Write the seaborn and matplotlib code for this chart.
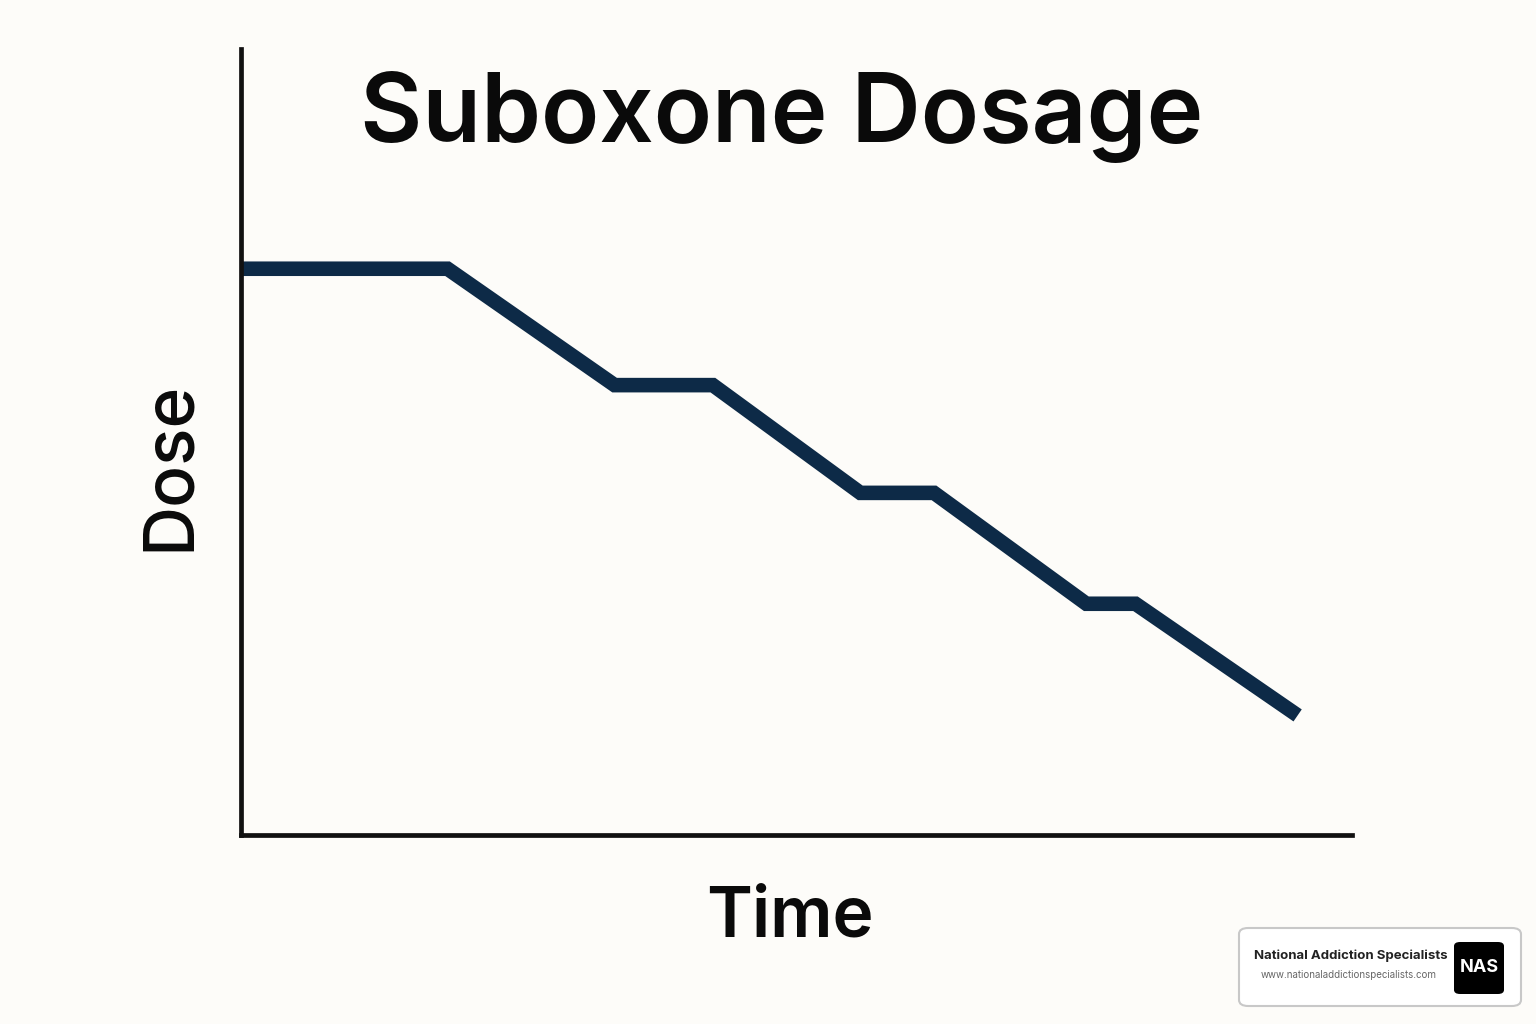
import matplotlib.pyplot as plt
import pandas as pd
import seaborn as sns
from matplotlib.patches import FancyBboxPatch

# Step-down taper schedule (arbitrary units)
time = [0, 2.1, 3.8, 4.8, 6.3, 7.05, 8.6, 9.1, 10.75]
dose = [7.2, 7.2, 5.72, 5.72, 4.35, 4.35, 2.94, 2.94, 1.52]

BG = "#fdfcf9"
LINE = "#0d2a47"

sns.set_theme(style="white", font="Inter")
fig = plt.figure(figsize=(15.36, 10.24), dpi=100, facecolor=BG)
ax = fig.add_axes([0.157, 0.1846, 0.723, 0.768])
ax.set_facecolor(BG)

df = pd.DataFrame({"time": time, "dose": dose})
sns.lineplot(data=df, x="time", y="dose", ax=ax, color=LINE, linewidth=10.5,
             solid_joinstyle="miter", solid_capstyle="butt", sort=False)

ax.set_xlim(0, 11.3)
ax.set_ylim(0, 10)
ax.set_xticks([])
ax.set_yticks([])
ax.set_xlabel("")
ax.set_ylabel("")
for side in ["top", "right"]:
    ax.spines[side].set_visible(False)
for side in ["left", "bottom"]:
    ax.spines[side].set_linewidth(3.4)
    ax.spines[side].set_color("#111111")

fig.text(0.509, 0.886, "Suboxone Dosage", ha="center", va="center",
         fontsize=69, fontweight="semibold", color="#0a0a0a")
fig.text(0.111, 0.545, "Dose", ha="center", va="center", rotation=90,
         fontsize=50, fontweight="medium", color="#0a0a0a")
fig.text(0.514, 0.104, "Time", ha="center", va="center",
         fontsize=50, fontweight="semibold", color="#0a0a0a")

# badge
badge = FancyBboxPatch((1239 / 1536, 18 / 1024), 282 / 1536, 78 / 1024,
                       boxstyle="round,pad=0,rounding_size=0.006",
                       transform=fig.transFigure, facecolor="white",
                       edgecolor="#c8c8c8", linewidth=1.5)
fig.add_artist(badge)
fig.text(1351 / 1536, (1024 - 956) / 1024, "National Addiction Specialists",
         ha="center", va="center", fontsize=9.5, fontweight="bold", color="#222222")
fig.text(1349 / 1536, (1024 - 975) / 1024, "www.nationaladdictionspecialists.com",
         ha="center", va="center", fontsize=7, color="#666666")
logo = FancyBboxPatch((1454 / 1536, 30 / 1024), 50 / 1536, 52 / 1024,
                      boxstyle="round,pad=0,rounding_size=0.004",
                      transform=fig.transFigure, facecolor="black", edgecolor="none")
fig.add_artist(logo)
fig.text(1479 / 1536, 56 / 1024, "NAS", ha="center", va="center",
         fontsize=13, fontweight="bold", color="white")

fig.savefig("out.png", dpi=100, facecolor=BG)
